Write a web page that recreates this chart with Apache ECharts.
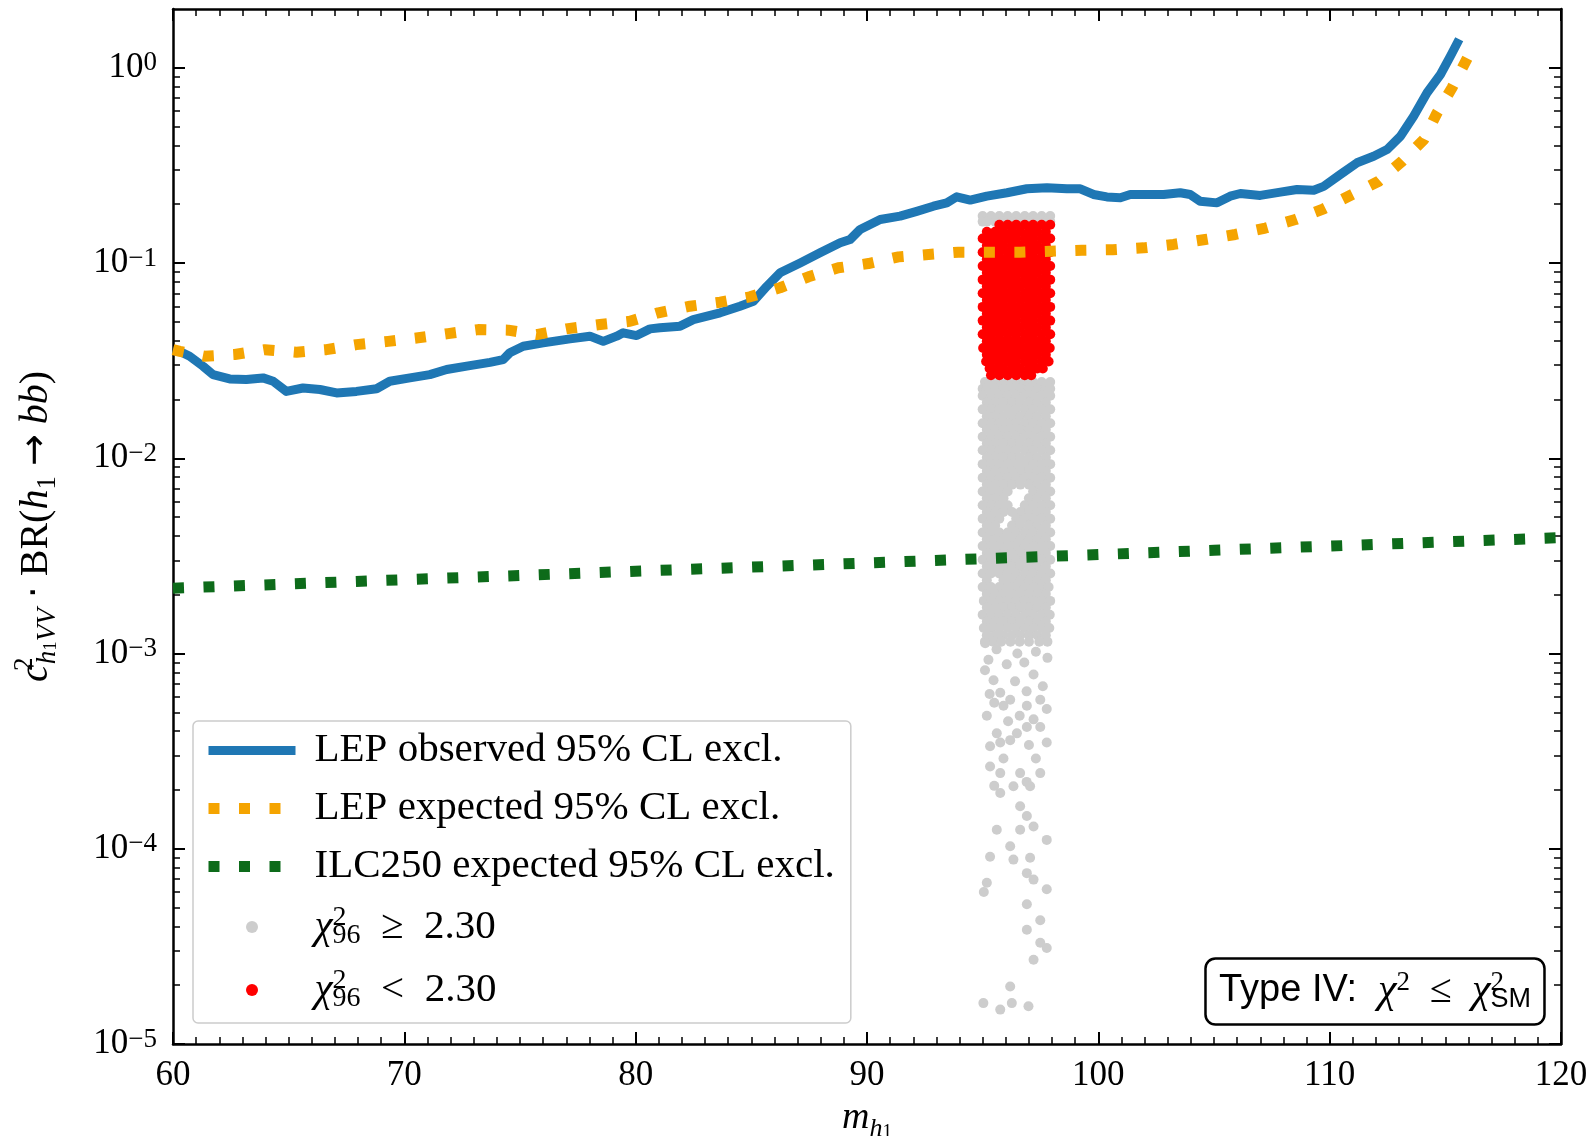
<!DOCTYPE html>
<html>
<head>
<meta charset="utf-8">
<script src="https://cdn.jsdelivr.net/npm/echarts@6/dist/echarts.min.js"></script>
<style>
  html, body { margin: 0; padding: 0; background: #ffffff; }
  #chart { width: 1593px; height: 1136px; }
</style>
</head>
<body>
<div id="chart"></div>
<script>
// LEP observed 95% CL exclusion: [m_h1, c^2 * BR]
const lepObserved = [
  [60.0, 0.036], [60.3, 0.0352], [60.72, 0.0333], [61.3, 0.0296], [61.73, 0.0268], [62.45, 0.0255],
  [63.17, 0.0253], [63.89, 0.0258], [64.33, 0.0248], [64.9, 0.022], [65.62, 0.0229], [66.35, 0.0225],
  [67.07, 0.0216], [67.93, 0.022], [68.8, 0.0227], [69.37, 0.0248], [70.24, 0.0258], [71.1, 0.0268],
  [71.83, 0.0285], [72.83, 0.0298], [73.7, 0.031], [74.27, 0.032], [74.56, 0.0347], [75.14, 0.0375],
  [76.0, 0.039], [77.16, 0.0409], [78.02, 0.0422], [78.6, 0.0397], [79.18, 0.0422], [79.46, 0.0439],
  [80.04, 0.0425], [80.62, 0.046], [81.05, 0.0466], [81.92, 0.0475], [82.49, 0.0513], [83.65, 0.0556],
  [84.51, 0.0601], [85.09, 0.0637], [85.67, 0.076], [86.24, 0.0891], [87.11, 0.1], [87.97, 0.1128],
  [88.84, 0.1269], [89.27, 0.1319], [89.7, 0.1484], [90.57, 0.167], [91.43, 0.1738], [92.15, 0.184],
  [92.87, 0.1954], [93.45, 0.2033], [93.88, 0.2184], [94.46, 0.21], [95.18, 0.22], [96.05, 0.229],
  [96.91, 0.24], [97.78, 0.243], [98.64, 0.24], [99.22, 0.24], [99.79, 0.2244], [100.37, 0.218],
  [100.95, 0.216], [101.38, 0.2244], [102.1, 0.2244], [102.82, 0.2244], [103.54, 0.229], [103.97, 0.2244],
  [104.4, 0.2074], [105.13, 0.2033], [105.7, 0.22], [106.14, 0.227], [107.0, 0.222], [107.87, 0.2306],
  [108.59, 0.238], [109.31, 0.236], [109.74, 0.247], [110.46, 0.284], [111.18, 0.326], [111.9, 0.352],
  [112.48, 0.381], [113.06, 0.446], [113.63, 0.565], [114.21, 0.745], [114.79, 0.924], [115.22, 1.146],
  [115.6, 1.4]
];

// LEP expected 95% CL exclusion
const lepExpected = [
  [60.0, 0.036], [60.3, 0.0353], [61.37, 0.0333], [62.67, 0.034], [63.97, 0.036], [65.34, 0.0349],
  [66.63, 0.036], [67.93, 0.0382], [69.3, 0.0397], [70.6, 0.0414], [71.9, 0.0435], [73.19, 0.0456],
  [74.49, 0.0453], [75.72, 0.043], [77.0, 0.046], [78.46, 0.0484], [79.75, 0.0503], [80.98, 0.0556],
  [82.35, 0.0601], [83.65, 0.063], [84.94, 0.0671], [86.24, 0.0747], [87.47, 0.085], [88.76, 0.0945],
  [90.06, 0.0994], [91.36, 0.1075], [92.66, 0.1106], [93.95, 0.1136], [95.25, 0.1136], [96.62, 0.1136],
  [97.92, 0.1149], [99.29, 0.1163], [100.62, 0.117], [101.96, 0.1196], [103.25, 0.1245], [104.62, 0.132],
  [105.92, 0.14], [107.22, 0.151], [108.52, 0.167], [109.74, 0.1896], [110.97, 0.2244], [112.12, 0.2624],
  [113.13, 0.332], [114.07, 0.429], [114.64, 0.587], [115.29, 0.79], [116.0, 1.15]
];

// ILC250 expected 95% CL exclusion
const ilcExpected = [
  [60, 0.00216], [65, 0.00227], [70, 0.00239], [75, 0.00251], [80, 0.00264], [85, 0.00277],
  [90, 0.00291], [95, 0.00306], [100, 0.00321], [105, 0.00338], [110, 0.00355], [115, 0.00373],
  [120, 0.00392]
];

// Scan points with chi2_96 < 2.30, one row per value: [value, m_h1, m_h1, ...]
const redRows = [
  [0.157, 95.72, 96.08, 96.45, 96.82, 97.18, 97.55, 97.92],
  [0.1445, 95.18, 95.54, 95.9, 96.27, 96.63, 97.0, 97.36, 97.73],
  [0.1334, 95.0, 95.36, 95.72, 96.08, 96.45, 96.82, 97.18, 97.55, 97.92],
  [0.123, 95.18, 95.54, 95.9, 96.27, 96.63, 97.0, 97.36, 97.73],
  [0.1135, 95.0, 95.36, 95.72, 96.08, 96.45, 96.82, 97.18, 97.55, 97.92],
  [0.1047, 95.18, 95.54, 95.9, 96.27, 96.63, 97.0, 97.36, 97.73],
  [0.0966, 95.0, 95.36, 95.72, 96.08, 96.45, 96.82, 97.18, 97.55, 97.92],
  [0.0891, 95.18, 95.54, 95.9, 96.27, 96.63, 97.0, 97.36, 97.73],
  [0.0822, 95.0, 95.36, 95.72, 96.08, 96.45, 96.82, 97.18, 97.55, 97.92],
  [0.0759, 95.18, 95.54, 95.9, 96.27, 96.63, 97.0, 97.36, 97.73],
  [0.07, 95.0, 95.36, 95.72, 96.08, 96.45, 96.82, 97.18, 97.55, 97.92],
  [0.0646, 95.18, 95.54, 95.9, 96.27, 96.63, 97.0, 97.36, 97.73],
  [0.0596, 95.0, 95.36, 95.72, 96.08, 96.45, 96.82, 97.18, 97.55, 97.92],
  [0.055, 95.18, 95.54, 95.9, 96.27, 96.63, 97.0, 97.36, 97.73],
  [0.0507, 95.0, 95.36, 95.72, 96.08, 96.45, 96.82, 97.18, 97.55, 97.92],
  [0.0468, 95.18, 95.54, 95.9, 96.27, 96.63, 97.0, 97.36, 97.73],
  [0.0432, 95.0, 95.36, 95.72, 96.08, 96.45, 96.82, 97.18, 97.55, 97.92],
  [0.0398, 95.18, 95.54, 95.9, 96.27, 96.63, 97.0, 97.36, 97.73],
  [0.0367, 95.02, 95.36, 95.72, 96.08, 96.45, 96.82, 97.18, 97.55, 97.9],
  [0.0339, 95.18, 95.54, 95.9, 96.27, 96.63, 97.0, 97.36, 97.73],
  [0.0313, 95.15, 95.36, 95.72, 96.08, 96.45, 96.82, 97.18, 97.55, 97.85],
  [0.0288, 95.3, 95.6, 95.9, 96.27, 96.63, 97.0, 97.36, 97.6],
  [0.0266, 95.36, 95.72, 96.08, 96.45, 96.82, 97.1]
];

// Scan points with chi2_96 >= 2.30 in the dense band: [value, m_h1, m_h1, ...]
const grayRows = [
  [0.174, 95.0, 95.36, 95.72, 96.08, 96.45, 96.82, 97.18, 97.55, 97.92],
  [0.163, 95.0, 95.18, 95.54, 95.9, 96.27, 96.63, 97.0, 97.36, 97.73, 97.92],
  [0.0246, 95.1, 95.36, 95.72, 96.08, 96.45, 96.82, 97.18, 97.55, 97.92],
  [0.0227, 95.0, 95.18, 95.54, 95.9, 96.27, 96.63, 97.0, 97.36, 97.73, 97.92],
  [0.0209, 95.0, 95.36, 95.72, 96.08, 96.45, 96.82, 97.18, 97.55, 97.92],
  [0.0193, 95.18, 95.54, 95.9, 96.27, 96.63, 97.0, 97.36, 97.73],
  [0.0178, 95.0, 95.36, 95.72, 96.08, 96.45, 96.82, 97.18, 97.55, 97.92],
  [0.0164, 95.18, 95.54, 95.9, 96.27, 96.63, 97.0, 97.36, 97.73],
  [0.0151, 95.0, 95.36, 95.72, 96.08, 96.45, 96.82, 97.18, 97.55, 97.92],
  [0.014, 95.18, 95.54, 95.9, 96.27, 96.63, 97.0, 97.36, 97.73],
  [0.0129, 95.0, 95.36, 95.72, 96.08, 96.45, 96.82, 97.18, 97.55, 97.92],
  [0.0119, 95.18, 95.54, 95.9, 96.27, 96.63, 97.0, 97.36, 97.73],
  [0.011, 95.0, 95.36, 95.72, 96.08, 96.45, 96.82, 97.18, 97.55, 97.92],
  [0.0101, 95.18, 95.54, 95.9, 96.27, 96.63, 97.0, 97.36, 97.73],
  [0.00933, 95.0, 95.36, 95.72, 96.08, 96.45, 96.82, 97.18, 97.55, 97.92],
  [0.00861, 95.18, 95.54, 95.9, 96.27, 96.63, 97.0, 97.36, 97.73],
  [0.00794, 95.0, 95.36, 95.72, 96.08, 96.45, 96.82, 97.18, 97.55, 97.92],
  [0.00733, 95.18, 95.54, 95.9, 96.27, 96.63, 97.0, 97.36, 97.73],
  [0.00676, 95.0, 95.36, 95.72, 96.08, 97.18, 97.55, 97.92],
  [0.00624, 95.18, 95.54, 95.9, 97.0, 97.36, 97.73],
  [0.00575, 95.0, 95.36, 95.72, 96.08, 96.82, 97.18, 97.55, 97.92],
  [0.00531, 95.18, 95.54, 95.9, 96.27, 96.63, 97.0, 97.36, 97.73],
  [0.0049, 95.0, 95.36, 95.72, 96.45, 96.82, 97.18, 97.55, 97.92],
  [0.00452, 95.18, 95.54, 96.27, 96.63, 97.0, 97.36, 97.73],
  [0.00417, 95.0, 95.36, 95.72, 96.08, 96.45, 96.82, 97.18, 97.55, 97.92],
  [0.00385, 95.18, 95.54, 95.9, 96.27, 96.63, 97.0, 97.36, 97.73],
  [0.00355, 95.0, 95.36, 95.72, 96.08, 96.45, 96.82, 97.18, 97.55, 97.92],
  [0.00327, 95.18, 95.54, 95.9, 96.27, 96.63, 97.0, 97.36, 97.73],
  [0.00302, 95.0, 95.36, 95.72, 96.08, 96.45, 96.82, 97.18, 97.55, 97.92],
  [0.00279, 95.18, 95.54, 95.9, 96.27, 96.63, 97.0, 97.36, 97.73],
  [0.00257, 95.0, 95.36, 95.72, 96.08, 96.45, 96.82, 97.18, 97.55, 97.92],
  [0.00237, 95.18, 95.9, 96.27, 96.63, 97.0, 97.36, 97.73],
  [0.00219, 95.0, 95.36, 95.72, 96.08, 96.45, 96.82, 97.18, 97.55, 97.85],
  [0.00202, 95.18, 95.54, 95.9, 96.27, 96.63, 97.0, 97.36, 97.73],
  [0.00186, 95.05, 95.36, 95.72, 96.08, 96.45, 96.82, 97.18, 97.55, 97.92],
  [0.00172, 95.18, 95.54, 95.9, 96.27, 96.63, 97.0, 97.36, 97.73],
  [0.00158, 95.0, 95.36, 95.72, 96.08, 96.45, 96.82, 97.18, 97.55, 97.9],
  [0.00146, 95.18, 95.54, 95.9, 96.27, 96.63, 97.0, 97.36, 97.73],
  [0.00135, 95.05, 95.36, 95.72, 96.08, 96.45, 96.82, 97.18, 97.55, 97.88],
  [0.00124, 95.18, 95.54, 95.9, 96.27, 96.63, 97.0, 97.36, 97.73],
  [0.00115, 95.1, 95.45, 95.8, 96.2, 96.6, 97.0, 97.45, 97.8]
];

// Scattered chi2_96 >= 2.30 points below the dense band: [m_h1, value]
const grayTail = [
  [95.11, 1.13e-3], [95.6, 1.05e-3], [96.5, 1.0e-3], [97.3, 1.02e-3], [97.8, 9.5e-4], [95.25, 9.3e-4],
  [96.04, 8.8e-4], [96.8, 9.0e-4], [95.1, 8.2e-4], [97.2, 7.8e-4], [95.47, 7.3e-4], [96.4, 7.2e-4],
  [97.6, 6.8e-4], [95.76, 6.3e-4], [95.3, 6.2e-4], [96.9, 6.4e-4], [96.19, 5.8e-4], [96.91, 5.4e-4],
  [97.49, 5.8e-4], [97.77, 5.2e-4], [95.5, 5.6e-4], [95.9, 5.4e-4], [95.18, 4.8e-4], [96.6, 4.8e-4],
  [97.2, 4.6e-4], [96.1, 4.5e-4], [95.61, 3.9e-4], [96.48, 3.9e-4], [96.91, 4.2e-4], [97.49, 4.2e-4],
  [97.77, 3.5e-4], [95.32, 3.35e-4], [95.76, 3.5e-4], [96.19, 3.6e-4], [97.0, 3.4e-4], [95.9, 2.9e-4],
  [97.3, 2.9e-4], [95.32, 2.64e-4], [95.76, 2.44e-4], [96.62, 2.44e-4], [97.49, 2.44e-4], [96.9, 2.2e-4],
  [95.5, 2.1e-4], [95.76, 1.93e-4], [96.33, 2.09e-4], [97.05, 2.09e-4], [96.62, 1.65e-4], [96.91, 1.47e-4],
  [95.61, 1.25e-4], [96.62, 1.25e-4], [97.2, 1.3e-4], [97.77, 1.11e-4], [96.19, 1.03e-4], [95.32, 9.1e-5],
  [96.33, 8.8e-5], [97.05, 9.0e-5], [96.91, 7.5e-5], [97.2, 6.95e-5], [95.18, 6.7e-5], [95.05, 6.0e-5],
  [97.77, 6.2e-5], [96.91, 5.2e-5], [97.49, 4.3e-5], [96.91, 3.85e-5], [97.49, 3.3e-5], [97.77, 3.1e-5],
  [97.2, 2.7e-5], [96.19, 1.97e-5], [95.03, 1.62e-5], [95.76, 1.5e-5], [96.26, 1.62e-5], [96.98, 1.56e-5]
];

// Axis ticks
const xTickValues = [60, 70, 80, 90, 100, 110, 120];
const yMajorTicks = [1e-5, 1e-4, 1e-3, 1e-2, 1e-1, 1];
const yMinorMantissas = [2, 3, 4, 5, 6, 7, 8, 9];

// Legend labels
const nameObserved = 'LEP observed 95% CL excl.';
const nameExpected = 'LEP expected 95% CL excl.';
const nameIlc = 'ILC250 expected 95% CL excl.';
const nameChiHigh = 'χ²96 ≥ 2.30';
const nameChiLow = 'χ²96 < 2.30';

// Expand the per-row lists into [m_h1, value] pairs for the scatter series
function rowsToPoints(rows) {
  const pts = [];
  rows.forEach(function (row) {
    for (let i = 1; i < row.length; i++) pts.push([row[i], row[0]]);
  });
  return pts;
}
const redPoints = rowsToPoints(redRows);
const grayPoints = rowsToPoints(grayRows).concat(grayTail);

const yMinorTicks = [];
yMajorTicks.slice(0, -1).forEach(function (d) {
  yMinorMantissas.forEach(function (k) { yMinorTicks.push(k * d); });
});

const SERIF = '"Liberation Serif", "Times New Roman", serif';
const SANS = '"Liberation Sans", Arial, sans-serif';
const SYM = '"DejaVu Sans", sans-serif';
const BLACK = '#000000';

const chart = echarts.init(document.getElementById('chart'), null, { renderer: 'canvas' });

function supMinus(e) { return e < 0 ? '\u2212' + (-e) : String(e); }

const frameLine = { show: true, onZero: false, lineStyle: { color: BLACK, width: 2.5 } };
const majorTick = { show: true, inside: true, length: 12, lineStyle: { color: BLACK, width: 2 } };
const minorTickStyle = { show: true, inside: true, length: 7, lineStyle: { color: BLACK, width: 1.5 } };

function xAxisDef(position, withLabels) {
  const ax = {
    type: 'value', min: 60, max: 120, interval: 10, position: position,
    axisLine: frameLine,
    axisTick: majorTick,
    minorTick: { show: true, splitNumber: 10, length: 7, lineStyle: { color: BLACK, width: 1.5 } },
    splitLine: { show: false }, minorSplitLine: { show: false },
    axisLabel: { show: withLabels, customValues: xTickValues, fontFamily: SERIF, fontSize: 35, color: BLACK, margin: 14 }
  };
  if (withLabels) {
    ax.name = '{it|m}{h|h}{one|1}';
    ax.nameLocation = 'middle';
    ax.nameGap = 50;
    ax.nameTextStyle = {
      color: BLACK,
      rich: {
        it: { fontFamily: SERIF, fontStyle: 'italic', fontSize: 38, lineHeight: 48, color: BLACK },
        h: { fontFamily: SERIF, fontStyle: 'italic', fontSize: 26, lineHeight: 24, verticalAlign: 'bottom', color: BLACK },
        one: { fontFamily: SERIF, fontSize: 19, lineHeight: 10, verticalAlign: 'bottom', color: BLACK }
      }
    };
  }
  return ax;
}

function yAxisDef(position, major, withLabels) {
  const ax = {
    type: 'log', logBase: 10, min: 1e-5, max: 2, position: position,
    axisLine: major ? frameLine : { show: false },
    axisTick: Object.assign({}, major ? majorTick : minorTickStyle, { customValues: major ? yMajorTicks : yMinorTicks }),
    splitLine: { show: false },
    axisLabel: { show: false }
  };
  if (withLabels) {
    ax.axisLabel = {
      show: true, customValues: yMajorTicks, margin: 16,
      formatter: function (v) { return '{b|10}{s|' + supMinus(Math.round(Math.log10(v))) + '}'; },
      rich: {
        b: { fontFamily: SERIF, fontSize: 35, lineHeight: 36, color: BLACK },
        s: { fontFamily: SERIF, fontSize: 27, lineHeight: 20, verticalAlign: 'top', color: BLACK }
      }
    };
    ax.name = '{it|c}{sup|2}{subi|h}{subsub|1}{subi|VV}{rm| }{op|·}{rm| BR(}{it|h}{sub|1}{rm| }{op|→}{rm| }{it|bb}{rm|)}';
    ax.nameLocation = 'middle';
    ax.nameRotate = 90;
    ax.nameGap = 112;
    ax.nameTextStyle = {
      color: BLACK,
      rich: {
        it: { fontFamily: SERIF, fontStyle: 'italic', fontSize: 40, lineHeight: 50, color: BLACK },
        rm: { fontFamily: SERIF, fontSize: 40, lineHeight: 50, color: BLACK },
        op: { fontFamily: SYM, fontSize: 38, lineHeight: 50, color: BLACK },
        sup: { fontFamily: SERIF, fontSize: 27, lineHeight: 30, verticalAlign: 'top', width: 0, align: 'left', color: BLACK },
        subi: { fontFamily: SERIF, fontStyle: 'italic', fontSize: 27, lineHeight: 24, verticalAlign: 'bottom', color: BLACK },
        subsub: { fontFamily: SERIF, fontSize: 19, lineHeight: 10, verticalAlign: 'bottom', color: BLACK },
        sub: { fontFamily: SERIF, fontSize: 27, lineHeight: 24, verticalAlign: 'bottom', color: BLACK }
      }
    };
  }
  return ax;
}

const legendRich = {
  g: { width: 14 },
  rm: { fontFamily: SERIF, fontSize: 41, lineHeight: 46, color: BLACK },
  it: { fontFamily: SERIF, fontStyle: 'italic', fontSize: 41, lineHeight: 46, color: BLACK },
  sup: { fontFamily: SERIF, fontSize: 28, lineHeight: 24, verticalAlign: 'top', width: 0, align: 'left', color: BLACK },
  sub: { fontFamily: SERIF, fontSize: 28, lineHeight: 18, verticalAlign: 'bottom', color: BLACK }
};

function legendLabel(name) {
  if (name === nameChiHigh) return '{g| }{it|χ}{sup|2}{sub|96}{rm|  ≥  2.30}';
  if (name === nameChiLow) return '{g| }{it|χ}{sup|2}{sub|96}{rm|  <  2.30}';
  return '{g| }{rm|' + name + '}';
}

const dotted = function (color) {
  return { color: color, width: 11, type: [11, 19.5], cap: 'butt', join: 'round' };
};

const titleRichBase = { color: BLACK, fontWeight: 'normal' };
function tr(extra) { return Object.assign({}, titleRichBase, extra); }

const option = {
  animation: false,
  backgroundColor: '#ffffff',
  grid: { left: 173, right: 32, top: 9, bottom: 92, containLabel: false, outerBoundsMode: 'none' },
  xAxis: [xAxisDef('bottom', true), xAxisDef('top', false)],
  yAxis: [
    yAxisDef('left', true, true),
    yAxisDef('left', false, false),
    yAxisDef('right', true, false),
    yAxisDef('right', false, false)
  ],
  title: {
    text: '{sf|Type IV:  }{it|χ}{sup|2}{rm|  ≤  }{it|χ}{sup0|2}{sm|SM}',
    right: 48, bottom: 111,
    padding: [11, 14, 12, 14],
    borderColor: BLACK, borderWidth: 2.5, borderRadius: 10,
    backgroundColor: '#ffffff',
    textStyle: {
      fontWeight: 'normal',
      rich: {
        sf: tr({ fontFamily: SANS, fontSize: 38, lineHeight: 44 }),
        it: tr({ fontFamily: SERIF, fontStyle: 'italic', fontSize: 42, lineHeight: 44 }),
        rm: tr({ fontFamily: SERIF, fontSize: 40, lineHeight: 44 }),
        sup: tr({ fontFamily: SERIF, fontSize: 27, lineHeight: 26, verticalAlign: 'top' }),
        sup0: tr({ fontFamily: SERIF, fontSize: 27, lineHeight: 26, verticalAlign: 'top', width: 0, align: 'left' }),
        sm: tr({ fontFamily: SANS, fontSize: 27, lineHeight: 18, verticalAlign: 'bottom' })
      }
    }
  },
  legend: {
    orient: 'vertical',
    left: 193, top: 721,
    padding: [9, 16, 10, 10],
    itemGap: 17,
    itemWidth: 87, itemHeight: 12,
    backgroundColor: '#ffffff',
    borderColor: '#cccccc', borderWidth: 1.5, borderRadius: 5,
    selectedMode: false,
    formatter: legendLabel,
    textStyle: { color: BLACK, rich: legendRich },
    data: [
      { name: nameObserved, itemStyle: { opacity: 0 }, lineStyle: { width: 9, type: 'solid' } },
      { name: nameExpected, itemStyle: { opacity: 0 }, lineStyle: { width: 11, type: [11, 19.5] } },
      { name: nameIlc, itemStyle: { opacity: 0 }, lineStyle: { width: 11, type: [11, 19.5] } },
      { name: nameChiHigh, icon: 'circle' },
      { name: nameChiLow, icon: 'circle' }
    ]
  },
  series: [
    {
      name: nameChiHigh, type: 'scatter', data: grayPoints, symbol: 'circle', symbolSize: 10,
      itemStyle: { color: '#cdcdcd', opacity: 1 }, silent: true, z: 1
    },
    {
      name: nameChiLow, type: 'scatter', data: redPoints, symbol: 'circle', symbolSize: 10,
      itemStyle: { color: '#ff0000', opacity: 1 }, silent: true, z: 2
    },
    {
      name: nameObserved, type: 'line', data: lepObserved, symbol: 'none', silent: true, z: 3,
      itemStyle: { color: '#1f77b4' },
      lineStyle: { color: '#1f77b4', width: 9, join: 'round', cap: 'butt' }
    },
    {
      name: nameExpected, type: 'line', data: lepExpected, symbol: 'none', silent: true, z: 4,
      itemStyle: { color: '#f5a400' },
      lineStyle: dotted('#f5a400')
    },
    {
      name: nameIlc, type: 'line', data: ilcExpected, symbol: 'none', silent: true, z: 5,
      itemStyle: { color: '#0d6b1a' },
      lineStyle: dotted('#0d6b1a')
    }
  ]
};

chart.setOption(option);
</script>
</body>
</html>
